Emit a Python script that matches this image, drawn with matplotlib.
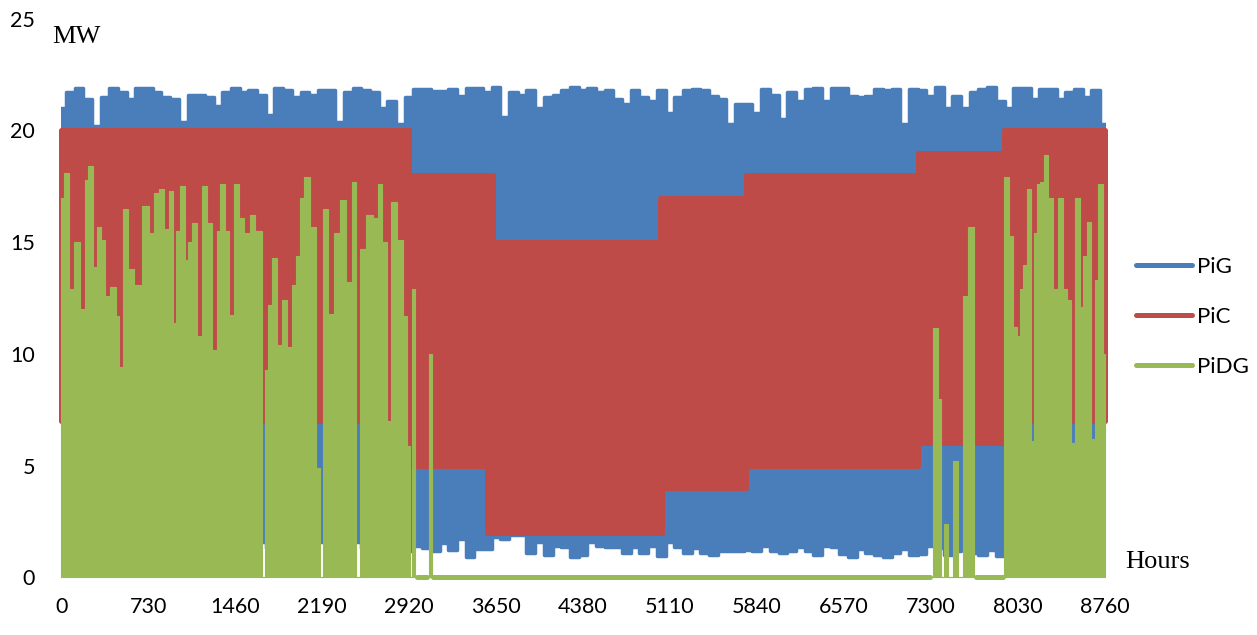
import numpy as np
import matplotlib.pyplot as plt
from matplotlib.lines import Line2D

# ---- data ----
# PiG envelope, one reading every 73 hours
hours = np.arange(0, 8761, 73)
pig_top = [21.0, 21.7, 21.9, 21.4, 20.2, 21.5, 21.9, 21.7, 21.4, 21.9,
           21.9, 21.7, 21.5, 21.4, 20.4, 21.6, 21.6, 21.5, 21.1, 21.7,
           21.9, 21.7, 21.8, 21.6, 20.7, 21.9, 21.8, 21.5, 21.7, 21.6,
           21.8, 21.8, 20.4, 21.7, 21.9, 21.8, 21.7, 21.0, 21.3, 20.3,
           21.5, 21.85, 21.85, 21.75, 21.75, 21.85, 21.55, 21.9, 21.9, 21.7,
           21.95, 20.6, 21.7, 21.6, 21.8, 21.0, 21.5, 21.6, 21.8, 21.95,
           21.8, 21.9, 21.7, 21.8, 21.4, 21.2, 21.8, 21.5, 21.3, 21.8,
           20.8, 21.5, 21.8, 21.85, 21.8, 21.55, 21.4, 20.3, 21.2, 21.2,
           20.8, 21.85, 21.6, 20.5, 21.7, 21.3, 21.85, 21.9, 21.3, 21.9,
           21.9, 21.55, 21.5, 21.55, 21.85, 21.8, 21.85, 20.3, 21.85, 21.8,
           21.55, 21.95, 21.0, 21.55, 21.0, 21.7, 21.85, 21.95, 21.3, 21.0,
           21.9, 21.9, 21.4, 21.85, 21.85, 21.4, 21.7, 21.85, 21.5, 21.8,
           20.3]
pig_bottom = [1.5, 1.3, 1.6, 1.4, 1.7, 1.3, 1.5, 1.2, 1.6, 1.4,
              1.7, 1.3, 1.5, 1.2, 1.6, 1.4, 1.5, 1.3, 1.7, 1.4,
              1.5, 1.2, 1.6, 1.6, 1.3, 1.5, 1.4, 1.7, 1.3, 1.5,
              1.6, 1.2, 1.5, 1.4, 1.6, 1.3, 1.5, 1.2, 1.4, 1.3,
              1.2, 1.43, 1.3, 1.17, 1.55, 1.25, 1.7, 0.91, 1.26, 1.26,
              1.8, 1.7, 1.9, 1.9, 1.1, 1.6, 1.0, 1.4, 1.35, 0.91,
              1.0, 1.6, 1.43, 1.35, 1.35, 1.1, 1.35, 1.1, 1.4, 0.95,
              1.6, 1.35, 1.1, 1.3, 1.1, 1.0, 1.2, 1.2, 1.2, 1.25,
              1.2, 1.43, 1.2, 1.1, 1.2, 1.35, 1.2, 1.0, 1.43, 1.35,
              1.05, 0.91, 1.26, 1.1, 1.0, 0.91, 1.1, 1.26, 1.0, 1.05,
              1.4, 1.3, 1.0, 1.2, 1.4, 1.1, 1.0, 1.25, 0.95, 1.3,
              1.5, 1.2, 1.4, 1.3, 1.5, 1.2, 1.4, 1.3, 1.5, 1.3,
              1.4]

# PiC: day / night levels per season
pic_top_hours = [0, 2920, 3620, 5030, 5745, 7190, 7912, 8760]
pic_top = [20, 18, 15, 17, 18, 19, 20, 20]
pic_bottom_hours = [0, 2930, 3570, 5045, 5750, 7195, 7912, 8760]
pic_bottom = [7, 5, 2, 4, 5, 6, 7, 7]

# PiDG envelope
pidg_hours = [0, 49, 80, 130, 181, 209, 245, 281, 315, 351,
              385, 435, 477, 497, 533, 581, 645, 715, 757, 791,
              841, 883, 917, 951, 978, 1018, 1051, 1079, 1113, 1158,
              1197, 1247, 1289, 1317, 1354, 1393, 1429, 1471, 1513, 1561,
              1606, 1639, 1673, 1695, 1718, 1751, 1793, 1835, 1877, 1919,
              1953, 1989, 2017, 2059, 2115, 2157, 2180, 2213, 2261, 2311,
              2367, 2417, 2457, 2488, 2530, 2591, 2639, 2675, 2717, 2745,
              2793, 2849, 2885, 2913, 2933, 2961, 2983, 3067, 3101, 3123,
              7295, 7337, 7379, 7398, 7429, 7463, 7505, 7547, 7589, 7645,
              7678, 7905, 7930, 7980, 8008, 8036, 8064, 8092, 8126, 8157,
              8176, 8204, 8232, 8269, 8308, 8345, 8387, 8429, 8465, 8496,
              8532, 8569, 8596, 8633, 8664, 8689, 8728, 8760]
pidg = [17.0, 18.1, 12.9, 15.0, 12.0, 17.8, 18.4, 13.9, 15.7, 15.1,
        12.6, 13.0, 11.7, 9.4, 16.5, 13.8, 13.1, 16.6, 15.4, 17.2,
        17.4, 15.6, 17.3, 11.4, 15.5, 17.5, 14.2, 15.0, 15.85, 10.8,
        17.5, 15.85, 10.2, 15.5, 17.6, 15.5, 11.75, 17.6, 16.1, 15.4,
        16.2, 15.5, 15.5, 0, 9.3, 12.2, 14.3, 10.4, 12.4, 10.3,
        13.1, 14.4, 17.0, 17.9, 15.7, 4.9, 0, 16.5, 11.8, 15.4,
        16.9, 13.2, 17.7, 0, 14.7, 16.2, 16.1, 17.6, 15.0, 7.0,
        16.8, 15.1, 11.7, 5.9, 0, 12.9, 0, 0, 10.0, 0,
        0, 11.15, 8.0, 0, 2.4, 0, 5.2, 0, 12.6, 15.7,
        0, 0, 17.9, 15.3, 11.2, 10.8, 12.9, 14.0, 17.4, 6.1,
        15.4, 17.6, 17.7, 18.9, 17.0, 12.9, 17.0, 12.9, 12.4, 6.0,
        17.0, 12.1, 14.4, 15.9, 6.2, 13.3, 17.6, 10.0]

x_ticks = list(range(0, 8761, 730))
y_ticks = [0, 5, 10, 15, 20, 25]

blue = '#4A7EBB'
red = '#BE4B48'
green = '#98B954'

fig = plt.figure(figsize=(12.57, 6.35), dpi=100)
ax = fig.add_axes([0.0489, 0.0906, 0.8298, 0.8799])

# PiG band (thick rounded edge, like the original line)
blue_band = ax.fill_between(hours, pig_bottom, pig_top, step='mid', facecolor=blue,
                            edgecolor=blue, linewidth=2.5)
blue_band.set_joinstyle('round')

# PiC band, square wave between the two levels
xs = np.unique(pic_top_hours + pic_bottom_hours)
top = np.array(pic_top)[np.searchsorted(pic_top_hours, xs, side='right') - 1]
bot = np.array(pic_bottom)[np.searchsorted(pic_bottom_hours, xs, side='right') - 1]
red_band = ax.fill_between(xs, bot, top, step='post', facecolor=red,
                           edgecolor=red, linewidth=3.6, clip_on=False)
red_band.set_joinstyle('round')

# PiDG spikes
g_h = np.array(pidg_hours)
g_v = np.array(pidg)
ax.fill_between(g_h, 0, g_v, step='mid', color=green, linewidth=0.8, clip_on=False)
ax.plot(g_h, np.where(g_v == 0, 0, np.nan), color=green, lw=3.6,
        solid_capstyle='round', clip_on=False)

ax.set_xlim(0, 8760)
ax.set_ylim(0, 25)
ax.set_xticks(x_ticks)
ax.set_yticks(y_ticks)
for s in ax.spines.values():
    s.set_visible(False)
ax.tick_params(axis='both', length=0, labelsize=15.5)
ax.tick_params(axis='y', pad=19)
ax.tick_params(axis='x', pad=14)
for lab in ax.get_xticklabels() + ax.get_yticklabels():
    lab.set_fontfamily('Lato')

fig.text(52 / 1257, 1 - 37 / 635, 'MW', family='Liberation Serif', fontsize=19,
         va='center', ha='left')
fig.text(1125 / 1257, 1 - 562 / 635, 'Hours', family='Liberation Serif', fontsize=19,
         va='center', ha='left')

handles = [Line2D([], [], color=c, lw=3.6, solid_capstyle='round') for c in (blue, red, green)]
fig.legend(handles, ['PiG', 'PiC', 'PiDG'], loc='center left',
           bbox_to_anchor=(1136 / 1257, 1 - 317 / 635), frameon=False,
           prop={'family': 'Lato', 'size': 16}, handlelength=2.5,
           handletextpad=0.25, labelspacing=1.35, borderpad=0, borderaxespad=0)

fig.savefig('out.png', dpi=100)
